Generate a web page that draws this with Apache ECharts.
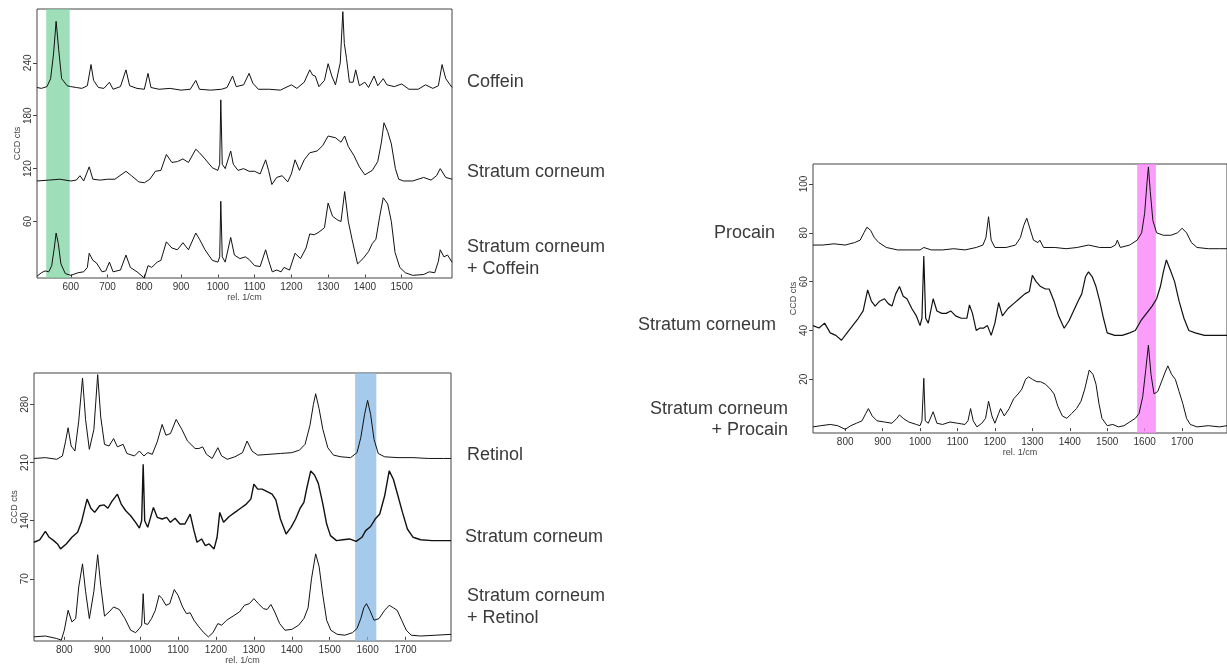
<!DOCTYPE html>
<html>
<head>
<meta charset="utf-8">
<script src="https://cdn.jsdelivr.net/npm/echarts@6/dist/echarts.min.js"></script>
<style>
html,body{margin:0;padding:0;background:#fff;}
#c{width:1227px;height:666px;}
</style>
</head>
<body>
<div id="c"></div>
<script>
// ---------- Panel 1: Coffein ----------
const p1XTicks = [600,700,800,900,1000,1100,1200,1300,1400,1500];
const p1YTicks = [60,120,180,240];
const p1Band = [533, 597];
const coffein = [[508,212],[520,211],[535,213],[545,222],[553,250],[560,287],[567,255],[575,222],[590,214],[600,213],[615,212],[630,211],[645,214],[655,238],[662,220],[675,212],[690,211],[705,218],[715,210],[735,213],[750,232],[760,214],[780,211],[800,210],[810,228],[818,212],[840,210],[870,211],[900,209],[925,210],[940,220],[950,210],[980,209],[1010,210],[1025,212],[1040,225],[1050,213],[1070,215],[1085,228],[1095,217],[1110,210],[1140,210],[1170,209],[1200,215],[1215,211],[1235,218],[1250,232],[1258,226],[1265,225],[1275,213],[1290,220],[1300,239],[1310,225],[1320,215],[1333,240],[1340,298],[1344,262],[1350,245],[1358,218],[1368,218],[1375,232],[1385,214],[1400,218],[1410,212],[1425,225],[1435,214],[1450,222],[1460,215],[1480,213],[1500,216],[1520,210],[1545,210],[1565,215],[1585,211],[1600,214],[1610,238],[1620,222],[1637,212]];
const scCof = [[508,106],[540,107],[570,108],[600,106],[615,107],[625,112],[635,106],[650,122],[660,108],[680,107],[700,108],[720,108],[750,117],[765,112],[785,105],[800,104],[815,108],[830,117],[845,118],[860,136],[875,127],[890,128],[905,131],[920,127],[940,142],[950,138],[965,131],[985,121],[1000,118],[1005,125],[1008,198],[1012,125],[1020,120],[1035,140],[1042,125],[1055,118],[1070,120],[1085,117],[1100,117],[1115,114],[1130,130],[1138,118],[1147,102],[1160,110],[1175,112],[1190,105],[1200,114],[1210,130],[1222,118],[1235,130],[1250,138],[1270,140],[1285,146],[1300,157],[1320,155],[1335,150],[1345,157],[1355,145],[1370,135],[1385,122],[1400,113],[1420,118],[1435,128],[1445,150],[1452,172],[1462,162],[1472,148],[1483,120],[1492,108],[1505,106],[1530,106],[1560,110],[1580,107],[1595,112],[1605,120],[1620,110],[1637,108]];
const scPlusCof = [[508,-2],[520,2],[530,4],[540,3],[548,10],[555,30],[560,47],[566,35],[573,12],[585,1],[600,-1],[620,2],[635,3],[645,8],[650,24],[660,16],[670,13],[685,3],[695,4],[705,14],[715,3],[735,5],[750,22],[762,8],[780,3],[800,-4],[810,10],[820,8],[835,14],[845,16],[860,37],[875,30],[890,28],[905,36],[920,28],[940,47],[950,40],[965,28],[985,16],[1000,14],[1005,20],[1008,83],[1012,20],[1020,14],[1035,42],[1045,22],[1060,18],[1075,20],[1085,17],[1100,10],[1115,9],[1130,28],[1138,16],[1148,3],[1160,5],[1172,3],[1180,8],[1195,5],[1210,24],[1225,18],[1240,30],[1250,46],[1262,45],[1275,48],[1290,53],[1300,81],[1312,66],[1325,62],[1335,60],[1345,94],[1355,60],[1365,40],[1380,12],[1395,18],[1410,26],[1420,35],[1430,40],[1440,65],[1450,87],[1462,80],[1472,60],[1482,25],[1495,8],[1510,2],[1530,-1],[1560,0],[1575,3],[1590,2],[1600,15],[1605,28],[1615,20],[1625,22],[1637,14]];

// ---------- Panel 2: Retinol ----------
const p2XTicks = [800,900,1000,1100,1200,1300,1400,1500,1600,1700];
const p2YTicks = [70,140,210,280];
const p2Band = [1567, 1623];
const retinol = [[720,215],[750,216],[780,214],[795,218],[803,235],[810,252],[818,230],[828,224],[838,260],[848,312],[856,262],[866,226],[878,250],[888,316],[896,265],[906,232],[918,230],[930,239],[940,229],[955,232],[965,221],[985,218],[998,224],[1010,218],[1020,222],[1032,220],[1045,235],[1058,256],[1068,243],[1080,245],[1095,262],[1110,250],[1125,236],[1145,227],[1155,227],[1165,229],[1175,220],[1190,215],[1205,228],[1215,218],[1230,214],[1250,217],[1270,222],[1282,236],[1295,224],[1310,219],[1340,220],[1370,221],[1400,222],[1420,225],[1435,232],[1448,255],[1457,280],[1463,293],[1472,275],[1482,250],[1495,228],[1510,219],[1530,217],[1555,216],[1572,222],[1582,240],[1592,268],[1600,285],[1608,268],[1617,238],[1628,221],[1645,217],[1680,216],[1720,216],[1760,215],[1800,215],[1820,215]];
const scRet = [[720,114],[735,117],[750,127],[760,120],[772,116],[782,112],[790,106],[805,112],[820,120],[835,126],[845,138],[860,166],[870,155],[880,150],[893,158],[905,159],[915,155],[925,163],[940,172],[950,160],[962,152],[975,146],[988,138],[998,131],[1004,140],[1008,208],[1012,140],[1020,132],[1035,156],[1045,144],[1058,142],[1070,144],[1080,138],[1092,143],[1105,136],[1118,136],[1132,148],[1142,128],[1150,114],[1162,118],[1172,110],[1182,112],[1195,106],[1203,120],[1210,150],[1220,138],[1235,145],[1250,150],[1265,155],[1280,160],[1292,166],[1300,184],[1310,178],[1322,178],[1335,175],[1348,172],[1358,165],[1370,142],[1385,124],[1398,132],[1410,142],[1422,155],[1432,162],[1440,180],[1450,200],[1460,195],[1470,185],[1482,160],[1492,136],[1502,122],[1518,116],[1535,117],[1552,118],[1570,115],[1585,120],[1595,128],[1608,133],[1620,142],[1632,148],[1645,170],[1657,200],[1668,190],[1680,170],[1692,150],[1705,130],[1720,120],[1740,117],[1770,116],[1800,116],[1820,116]];
const scPlusRet = [[720,0],[750,1],[780,-2],[792,-4],[800,8],[810,32],[820,18],[830,22],[838,60],[848,88],[856,55],[866,22],[878,55],[888,99],[896,62],[906,25],[918,30],[930,36],[945,33],[960,22],[975,8],[988,5],[998,10],[1004,14],[1008,52],[1012,16],[1020,15],[1030,22],[1040,32],[1050,50],[1058,46],[1068,38],[1078,40],[1090,57],[1100,50],[1112,36],[1122,28],[1132,29],[1142,20],[1155,12],[1168,5],[1180,0],[1192,5],[1205,16],[1215,14],[1228,20],[1245,25],[1262,30],[1275,38],[1288,40],[1300,46],[1312,40],[1325,34],[1335,33],[1345,39],[1355,30],[1368,16],[1382,8],[1400,9],[1418,14],[1432,22],[1443,35],[1452,70],[1463,100],[1472,85],[1482,50],[1492,20],[1503,8],[1520,3],[1540,2],[1560,5],[1572,10],[1582,22],[1590,35],[1597,40],[1606,32],[1617,20],[1630,22],[1645,32],[1657,38],[1668,35],[1678,32],[1690,20],[1702,8],[1715,2],[1740,1],[1780,2],[1820,3]];

// ---------- Panel 3: Procain ----------
const p3XTicks = [800,900,1000,1100,1200,1300,1400,1500,1600,1700];
const p3YTicks = [20,40,60,80,100];
const p3Band = [1580, 1630];
const procain = [[714,75],[740,75],[770,75.5],[800,75],[825,76],[840,77],[850,80],[858,82.3],[868,81],[878,78],[890,76],[910,74],[940,73],[970,73],[1000,73],[1010,74],[1030,73],[1060,73],[1090,73.5],[1120,73],[1150,74],[1168,75],[1176,78],[1183,86.6],[1190,77],[1200,74],[1230,74],[1255,75],[1268,78],[1277,83],[1285,86],[1293,82],[1303,77],[1315,76],[1320,77],[1330,74],[1360,74],[1390,73.5],[1420,74],[1450,75],[1480,74],[1510,74],[1522,75],[1527,77],[1535,74],[1560,75],[1580,77],[1592,80],[1600,88],[1606,100],[1610,107],[1615,97],[1622,85],[1632,80],[1650,79],[1670,79],[1688,80],[1700,81.9],[1712,80],[1725,76],[1740,74],[1770,73.5],[1800,73.5],[1820,73.5]];
const scPro = [[714,42],[730,41],[745,43],[760,39],[775,38],[790,36],[805,39],[820,42],[835,45],[848,48],[860,56.6],[870,52],[880,50],[892,52],[905,53],[915,51],[925,50],[935,55],[945,58],[955,54],[965,53],[978,49],[990,46],[1000,42],[1005,45],[1010,70.5],[1015,45],[1022,43],[1035,53],[1045,48],[1058,47],[1070,47],[1082,48],[1095,46],[1110,45],[1125,45],[1132,50.5],[1140,47],[1150,40],[1160,41],[1170,41],[1180,42],[1190,38],[1200,43],[1210,51.4],[1220,46],[1235,49],[1250,51],[1265,53],[1280,55],[1292,56],[1300,62.6],[1310,60],[1322,58],[1335,57],[1345,57],[1358,52],[1370,46],[1385,40.9],[1398,44],[1410,48],[1422,52],[1432,55],[1442,62],[1450,64],[1460,62],[1470,58],[1480,52],[1490,45],[1500,39],[1520,38],[1540,38],[1560,39],[1575,40],[1590,44],[1605,47],[1620,50],[1632,53],[1642,58],[1650,64],[1658,68.9],[1668,65],[1680,60],[1692,52],[1705,45],[1718,40],[1735,39],[1760,38],[1790,38],[1820,38]];
const scPlusPro = [[714,0.5],[735,1],[760,1.5],[780,1],[800,-0.5],[815,1],[830,2],[845,3],[855,6],[862,8],[872,5],[885,3],[905,2.5],[925,2],[938,4],[945,5.4],[955,4],[970,2.5],[990,1.5],[1000,1],[1005,3],[1010,20.4],[1014,3],[1022,2],[1035,6.7],[1045,2],[1060,1.5],[1080,2.5],[1100,2],[1120,1.5],[1128,3],[1135,8],[1142,3],[1152,0.5],[1165,2],[1175,4],[1183,11],[1192,5],[1200,2],[1210,6],[1215,8],[1225,5],[1238,8],[1250,12],[1262,14],[1272,16],[1282,20],[1290,21],[1300,20],[1312,19],[1322,19],[1335,18],[1348,16],[1358,14],[1368,9],[1380,5],[1392,4],[1405,6],[1418,8],[1430,11],[1440,16],[1452,23.8],[1462,22],[1470,18],[1478,10],[1486,4],[1500,1],[1515,1.5],[1530,0.5],[1545,1],[1560,2.5],[1575,4],[1585,6],[1595,13],[1603,24],[1610,34],[1617,22],[1625,14],[1635,15],[1645,19],[1655,23],[1662,25.5],[1672,22],[1682,20],[1692,15],[1702,10],[1712,4],[1722,1.5],[1740,0.5],[1770,1],[1800,0.5],[1820,1]];

// ---------- Labels ----------
const p1Labels = ["Coffein", "Stratum corneum", "Stratum corneum", "+ Coffein"];
const p2Labels = ["Retinol", "Stratum corneum", "Stratum corneum", "+ Retinol"];
const p3Labels = ["Procain", "Stratum corneum", "Stratum corneum", "+ Procain"];
const yAxisName = "CCD cts";
const xAxisName = "rel. 1/cm";

const FONT = "Liberation Sans, Arial, sans-serif";
const chart = echarts.init(document.getElementById('c'), null, {renderer: 'canvas'});

const grids = [
  {left: 37, top: 9, width: 415, height: 269},
  {left: 34, top: 373, width: 417, height: 270},
  {left: 813, top: 164, width: 416, height: 269}
];
const ranges = [
  {xmin: 508, xmax: 1637, ymin: -4, ymax: 301, xt: p1XTicks, yt: p1YTicks},
  {xmin: 720, xmax: 1820, ymin: -5, ymax: 318, xt: p2XTicks, yt: p2YTicks},
  {xmin: 714, xmax: 1820, ymin: -2, ymax: 108.2, xt: p3XTicks, yt: p3YTicks}
];

function xAx(i){
  const r = ranges[i];
  return {
    gridIndex: i, type: 'value', min: r.xmin, max: r.xmax,
    name: xAxisName, nameLocation: 'middle', nameGap: 15,
    nameTextStyle: {fontSize: 9, color: '#444', fontFamily: FONT},
    axisLine: {show: false},
    axisTick: {show: true, length: 3, customValues: r.xt, lineStyle: {color: '#444'}},
    axisLabel: {customValues: r.xt, fontSize: 10, color: '#333', margin: 4, fontFamily: FONT, formatter: v => String(v)},
    splitLine: {show: false}
  };
}
function yAx(i){
  const r = ranges[i];
  return {
    gridIndex: i, type: 'value', min: r.ymin, max: r.ymax,
    name: yAxisName, nameLocation: 'middle', nameGap: 15,
    nameTextStyle: {fontSize: 9, color: '#444', fontFamily: FONT},
    axisLine: {show: false},
    axisTick: {show: true, length: 4, customValues: r.yt, lineStyle: {color: '#444'}},
    axisLabel: {customValues: r.yt, fontSize: 10, color: '#333', rotate: 90, margin: 4, fontFamily: FONT, formatter: v => String(v)},
    splitLine: {show: false}
  };
}

function lineSeries(data, i, w){
  return {type: 'line', xAxisIndex: i, yAxisIndex: i, data: data, showSymbol: false, symbol: 'none',
    lineStyle: {color: '#111', width: w || 1}, z: 3, animation: false};
}
function bandSeries(band, i, color){
  return {type: 'line', xAxisIndex: i, yAxisIndex: i, data: [], z: 2, animation: false,
    markArea: {silent: true, itemStyle: {color: color}, data: [[{xAxis: band[0]}, {xAxis: band[1]}]]}};
}

function lbl(str, x, y, align){
  return {type: 'text', x: x, y: y,
    style: {text: str, font: '18px ' + FONT, fill: '#3a3a3a', textAlign: align || 'left', textVerticalAlign: 'middle'}};
}

const option = {
  animation: false,
  backgroundColor: '#fff',
  grid: grids.map(g => Object.assign({show: true, borderColor: '#444', borderWidth: 1, backgroundColor: 'transparent'}, g)),
  xAxis: [xAx(0), xAx(1), xAx(2)],
  yAxis: [yAx(0), yAx(1), yAx(2)],
  series: [
    bandSeries(p1Band, 0, 'rgba(120,210,160,0.72)'),
    bandSeries(p2Band, 1, 'rgba(130,182,228,0.72)'),
    bandSeries(p3Band, 2, 'rgba(250,130,250,0.78)'),
    lineSeries(coffein, 0), lineSeries(scCof, 0), lineSeries(scPlusCof, 0),
    lineSeries(retinol, 1), lineSeries(scRet, 1, 1.4), lineSeries(scPlusRet, 1),
    lineSeries(procain, 2), lineSeries(scPro, 2, 1.2), lineSeries(scPlusPro, 2)
  ],
  graphic: [
    lbl(p1Labels[0], 467, 82),
    lbl(p1Labels[1], 467, 172),
    lbl(p1Labels[2], 467, 247),
    lbl(p1Labels[3], 467, 269),
    lbl(p2Labels[0], 467, 455),
    lbl(p2Labels[1], 465, 537),
    lbl(p2Labels[2], 467, 596),
    lbl(p2Labels[3], 467, 618),
    lbl(p3Labels[0], 775, 233, 'right'),
    lbl(p3Labels[1], 776, 325, 'right'),
    lbl(p3Labels[2], 788, 409, 'right'),
    lbl(p3Labels[3], 788, 430, 'right')
  ]
};
chart.setOption(option);
</script>
</body>
</html>
